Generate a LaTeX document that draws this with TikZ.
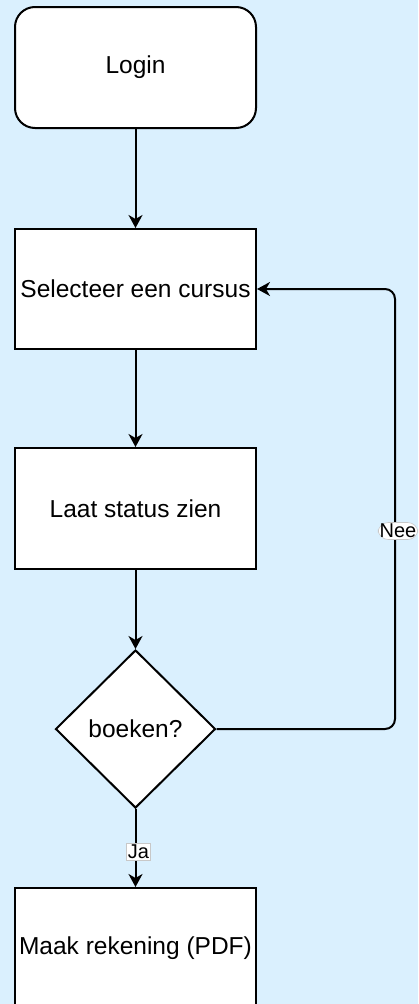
\documentclass[tikz,border=0pt]{standalone}
\usepackage{fontspec}
\setmainfont{Liberation Sans}
\usetikzlibrary{arrows.meta,positioning,shapes.geometric}
\definecolor{bgblue}{HTML}{DAF0FE}
\definecolor{lblgray}{HTML}{C8C8C8}

\begin{document}
\begin{tikzpicture}[x=1pt,y=-1pt,
    box/.style={rectangle,draw,fill=white,line width=2pt,minimum width=241pt,minimum height=120pt,inner sep=0pt,font=\fontsize{24.5}{29}\selectfont},
    decision/.style={diamond,draw,fill=white,line width=2pt,minimum width=160pt,minimum height=158pt,inner sep=0pt,font=\fontsize{24.5}{29}\selectfont},
    lbl/.style={fill=white,draw=lblgray,line width=0.6pt,inner sep=1.5pt,font=\fontsize{20}{24}\selectfont},
    arrow/.style={line width=2pt,-{Stealth[length=13pt,width=14pt,inset=4pt]}}]
    \fill[bgblue] (0,0) rectangle (418,1004);
    \useasboundingbox (0,0) rectangle (418,1004);
    \node[box,rounded corners=20pt,minimum height=121pt] (login) at (135.5,67.5) {Login};
    \node[box] (select) at (135.5,289) {Selecteer een cursus};
    \node[box,minimum height=121pt] (status) at (135.5,508.5) {Laat status zien};
    \node[decision] (book) at (135.5,729) {boeken?};
    \node[box] (invoice) at (135.5,948) {Maak rekening (PDF)};
    \coordinate (turn) at (395,0);
    \draw[arrow] (login) -- (select);
    \draw[arrow] (select) -- (status);
    \draw[arrow] (status) -- (book);
    \draw[arrow] (book) -- node[lbl,pos=0.55,xshift=3pt] {Ja} (invoice);
    \draw[arrow,rounded corners=10pt] (book.east) -- (book.east -| turn) -- node[lbl,pos=0.45,xshift=3pt] {Nee} (select.east -| turn) -- (select.east);
\end{tikzpicture}
\end{document}
